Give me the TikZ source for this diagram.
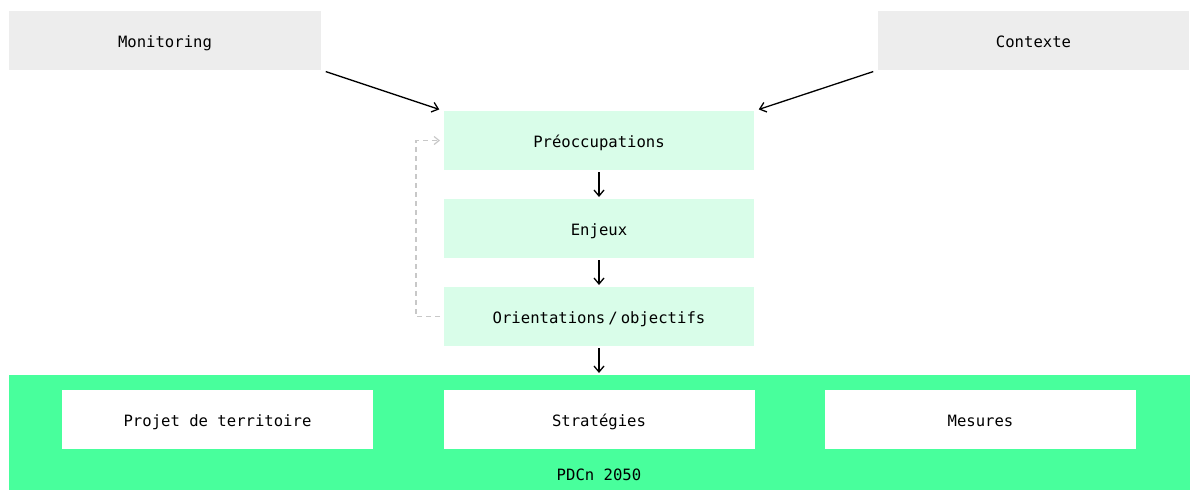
\documentclass[tikz,border=0pt]{standalone}
\usepackage{fontspec}
\setmonofont{DejaVu Sans Mono}
\usetikzlibrary{arrows.meta}
\definecolor{boxgray}{HTML}{EDEDED}
\definecolor{mint}{HTML}{D9FDE9}
\definecolor{green}{HTML}{48FF9C}
\definecolor{dashgray}{HTML}{C8C8C8}
\begin{document}
\begin{tikzpicture}[x=1pt,y=-1pt,
  every node/.style={font=\ttfamily\fontsize{15.6}{17}\selectfont, inner sep=0pt, outer sep=0pt, text height=13pt, text depth=0pt},
  graybox/.style={fill=boxgray, minimum width=312pt, minimum height=59pt},
  mintbox/.style={fill=mint, minimum width=310pt, minimum height=59pt},
  whitebox/.style={fill=white, minimum width=311pt, minimum height=59pt},
  arr/.style={draw=black, line width=1.3pt, -{Straight Barb[length=6pt,width=10pt,line width=1.3pt]}},
  loop/.style={draw=dashgray, line width=1.2pt, dash pattern=on 5pt off 4pt, -{Straight Barb[length=5pt,width=8pt,line width=1.2pt]}}]
\useasboundingbox (0,0) rectangle (1194,491);
\node[graybox] (mon) at (165,40.5) {Monitoring};
\node[graybox, minimum width=311pt] (ctx) at (1033.5,40.5) {Contexte};
\node[mintbox] (pre) at (599,140.5) {Préoccupations};
\node[mintbox] (enj) at (599,228.5) {Enjeux};
\node[mintbox] (ori) at (599,316.5) {Orientations\hspace{3pt}/\hspace{3pt}objectifs};
\node[fill=green, minimum width=1181pt, minimum height=115pt] (pdc) at (599.5,432.5) {};
\node[whitebox] (pro) at (217.5,419.5) {Projet de territoire};
\node[whitebox] (str) at (599,419.5) {Stratégies};
\node[whitebox] (mes) at (980.5,419.5) {Mesures};
\node (lab) at (599,474) {PDCn 2050};
\draw[arr, shorten <=5pt, shorten >=5pt] (mon.south east) -- (pre.north west);
\draw[arr, shorten <=5pt, shorten >=5pt] (ctx.south west) -- (pre.north east);
\draw[arr, shorten <=2pt, shorten >=2pt] (pre.south) -- (enj.north);
\draw[arr, shorten <=2pt, shorten >=2pt] (enj.south) -- (ori.north);
\draw[arr, shorten <=2pt, shorten >=2pt] (ori.south) -- (ori.south |- pdc.north);
\draw[loop, shorten <=4pt, shorten >=4pt] (ori.west) -- ++(-28,0) |- (pre.west);
\end{tikzpicture}
\end{document}
